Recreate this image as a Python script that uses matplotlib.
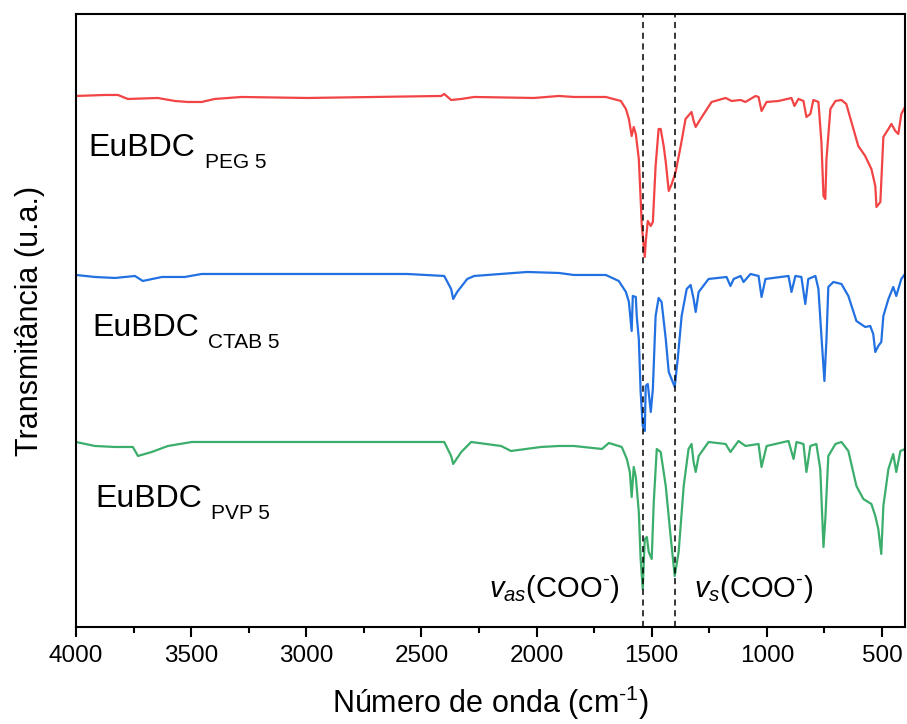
import matplotlib
matplotlib.use("Agg")
import matplotlib.pyplot as plt
import numpy as np

plt.rcParams['font.family'] = ['Liberation Sans', 'DejaVu Sans']
plt.rcParams['mathtext.fontset'] = 'custom'
plt.rcParams['mathtext.rm'] = 'Liberation Sans'
plt.rcParams['mathtext.it'] = 'Liberation Sans:italic'

# --- DATA (arbitrary units, offsets included) ---
wn_peg = [4000, 3874, 3818, 3775, 3645, 3571, 3515, 3454, 3398, 3281, 2995, 2414, 2401, 2371, 2327,
          2271, 2011, 1903, 1838, 1742, 1699, 1634, 1612, 1599, 1587, 1578, 1569, 1556, 1548, 1543,
          1530, 1526, 1517, 1504, 1495, 1483, 1470, 1461, 1448, 1439, 1426, 1413, 1396, 1374, 1353,
          1327, 1318, 1309, 1288, 1240, 1179, 1153, 1114, 1093, 1049, 1036, 1023, 1001, 949, 893,
          880, 863, 841, 828, 811, 798, 776, 763, 754, 746, 741, 724, 702, 676, 655, 624, 603, 573,
          546, 529, 524, 507, 494, 472, 459, 442, 429, 416, 400]
t_peg = [531, 532, 532, 528, 529, 526, 525, 525, 528, 530, 529, 531, 533, 527, 528,
         530, 529, 531, 530, 530, 530, 526, 518, 508, 491, 500, 493, 468, 428, 401,
         370, 385, 406, 401, 405, 461, 498, 498, 481, 465, 436, 443, 455, 481, 508,
         515, 506, 500, 508, 525, 529, 526, 527, 525, 531, 530, 516, 525, 526, 529,
         521, 528, 526, 510, 513, 527, 525, 485, 431, 428, 468, 518, 526, 527, 523, 498, 481, 471,
         458, 441, 420, 425, 490, 498, 503, 496, 493, 513, 520]

wn_ctab = [4000, 3918, 3831, 3744, 3710, 3627, 3528, 3454, 2995, 2562, 2401, 2371, 2362, 2345, 2301,
           2271, 2041, 1903, 1838, 1699, 1643, 1612, 1599, 1587, 1582, 1569, 1565, 1556, 1548, 1539,
           1530, 1526, 1517, 1504, 1495, 1483, 1470, 1457, 1439, 1426, 1400, 1387, 1370, 1348, 1331,
           1318, 1309, 1296, 1253, 1175, 1158, 1144, 1114, 1101, 1071, 1036, 1023, 1006, 906, 893,
           876, 850, 833, 820, 789, 776, 763, 750, 741, 733, 711, 676, 646, 611, 573, 551, 538, 529,
           516, 503, 494, 472, 451, 438, 416, 400]
t_ctab = [352, 350, 349, 351, 346, 350, 350, 353, 353, 353, 351, 338, 328, 335, 348,
          351, 355, 354, 352, 352, 346, 335, 325, 296, 331, 330, 311, 288, 235, 201,
          196, 241, 243, 215, 238, 311, 329, 325, 288, 255, 240, 268, 311, 338, 342,
          328, 315, 335, 348, 350, 341, 348, 351, 345, 353, 351, 330, 348, 351, 335,
          351, 350, 323, 348, 351, 338, 291, 246, 288, 340, 345, 343, 331, 306, 300, 301, 293, 275,
          281, 285, 311, 328, 340, 331, 348, 353]

wn_pvp = [4000, 3918, 3831, 3753, 3731, 3671, 3601, 3497, 2995, 2401, 2371, 2362, 2327, 2284, 2154,
          2111, 1981, 1903, 1838, 1716, 1686, 1630, 1608, 1595, 1587, 1578, 1569, 1556, 1548, 1539,
          1530, 1521, 1513, 1500, 1491, 1478, 1461, 1439, 1418, 1400, 1383, 1361, 1340, 1327, 1318,
          1309, 1296, 1253, 1179, 1158, 1123, 1093, 1036, 1023, 1001, 906, 884, 871, 841, 828,
          811, 785, 768, 754, 746, 733, 702, 676, 646, 611, 581, 546, 529, 516, 503, 494, 472,
          451, 438, 420, 400]
t_pvp = [185, 181, 180, 180, 171, 175, 181, 185, 185, 185, 171, 163, 175, 185, 181,
         176, 180, 181, 181, 178, 184, 180, 168, 155, 130, 160, 150, 115, 68, 38,
         88, 90, 75, 68, 125, 178, 175, 141, 91, 51, 75, 141, 178, 183, 165,
         155, 171, 185, 183, 175, 186, 181, 183, 160, 181, 186, 168, 185, 183, 155,
         181, 183, 158, 80, 108, 171, 183, 185, 176, 141, 128, 123, 111, 98, 73, 121, 158,
         173, 155, 176, 178]

band_positions = [1537, 1400]

fig = plt.figure(figsize=(9.07, 7.24), dpi=100)
ax = fig.add_axes([0.0838, 0.134, 0.914, 0.8467])

ax.plot(wn_peg, t_peg, color='#F24444', lw=1.6)
ax.plot(wn_ctab, t_ctab, color='#2271E2', lw=1.6)
ax.plot(wn_pvp, t_pvp, color='#3BAE6C', lw=1.6)

for b in band_positions:
    ax.axvline(b, color='black', ls=(0, (4, 3)), lw=1.1)

ax.set_xlim(4000, 400)
ax.set_ylim(0, 613)
ax.set_xticks(np.arange(4000, 400, -500))
ax.set_xticks(np.arange(3750, 400, -500), minor=True)
ax.set_yticks([])
ax.tick_params(axis='x', which='major', direction='out', length=7, width=1.5, labelsize=17.5, pad=6)
ax.tick_params(axis='x', which='minor', direction='out', length=4, width=1.5)
for s in ax.spines.values():
    s.set_linewidth(1.5)

ax.set_xlabel(r'Número de onda (cm$^{\text{-1}}$)', fontsize=22, labelpad=12)
ax.set_ylabel('Transmitância (u.a.)', fontsize=22, labelpad=22)

# sample labels
labels = [('EuBDC', 'PEG 5', 3948, 471), ('EuBDC', 'CTAB 5', 3931, 291), ('EuBDC', 'PVP 5', 3918, 120)]
for main, sub, x, y in labels:
    t = ax.text(x, y, main, fontsize=23, ha='left', va='baseline')
    ax.annotate(sub, xy=(1, 0), xycoords=t, xytext=(7, -6.5), textcoords='offset points',
                fontsize=15, ha='left', va='bottom')

ax.text(2206, 30, r'$v_{as}$(COO$^{\text{-}}$)', fontsize=21, ha='left', va='baseline')
ax.text(1318, 30, r'$v_{s}$(COO$^{\text{-}}$)', fontsize=21, ha='left', va='baseline')

fig.savefig('out.png', dpi=100)
